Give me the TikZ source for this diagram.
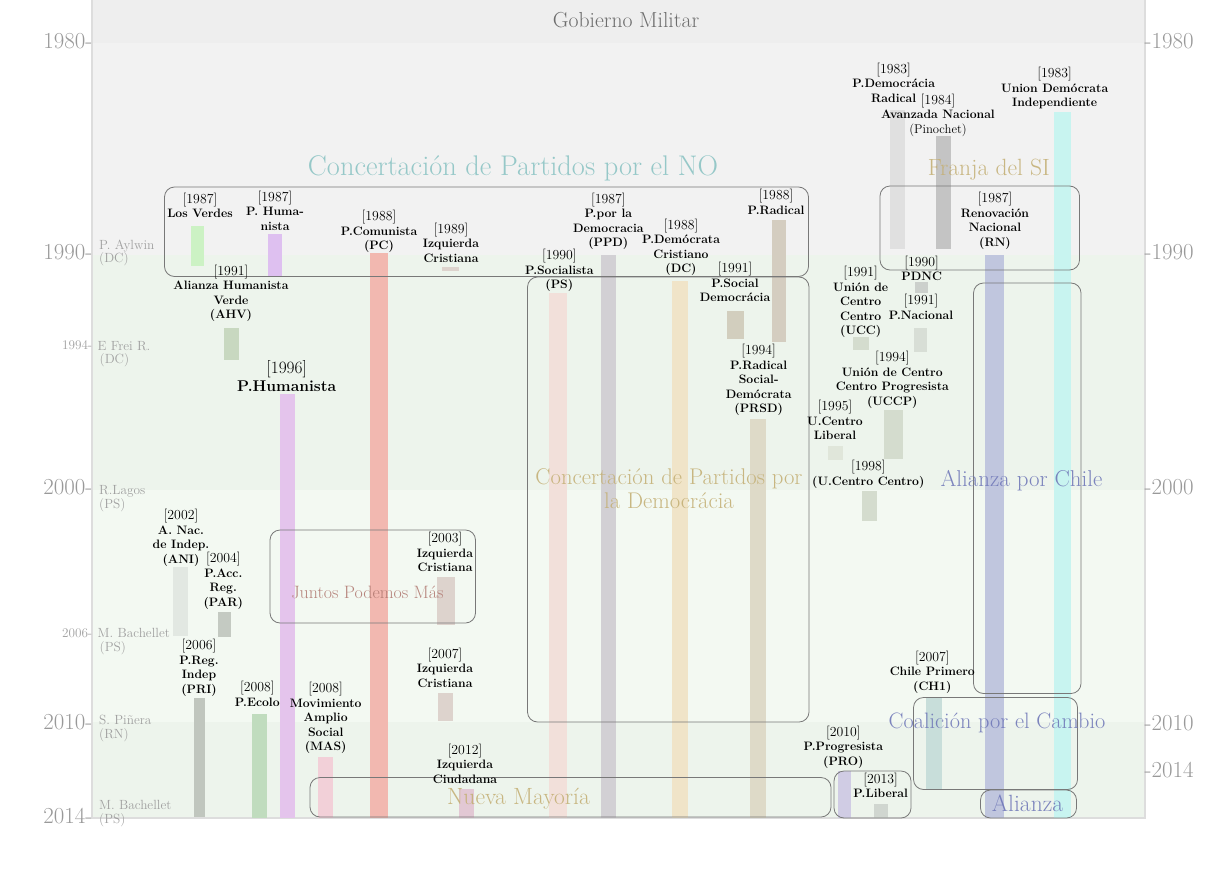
\documentclass[tikz,border=0pt]{standalone}
\usepackage{fontspec}
\definecolor{bgA}{RGB}{238,238,238}
\definecolor{bgB}{RGB}{242,242,242}
\definecolor{bgC}{RGB}{237,244,236}
\definecolor{bgD}{RGB}{243,249,242}
\definecolor{cFrame}{RGB}{221,221,221}
\definecolor{cAxis}{RGB}{153,153,153}
\definecolor{cPres}{RGB}{160,160,160}
\definecolor{cGob}{RGB}{96,96,96}
\definecolor{cBox}{RGB}{120,120,120}
\definecolor{tTeal}{RGB}{140,196,196}
\definecolor{tTan}{RGB}{196,176,118}
\definecolor{tRed}{RGB}{176,120,112}
\definecolor{tBlue}{RGB}{112,120,184}
\definecolor{cVerdes}{RGB}{204,242,196}
\definecolor{cHumA}{RGB}{222,192,240}
\definecolor{cHumB}{RGB}{228,196,236}
\definecolor{cPC}{RGB}{242,184,176}
\definecolor{cIC}{RGB}{221,211,205}
\definecolor{cAHV}{RGB}{200,216,192}
\definecolor{cANI}{RGB}{226,232,226}
\definecolor{cPAR}{RGB}{196,202,194}
\definecolor{cPRI}{RGB}{192,198,190}
\definecolor{cEco}{RGB}{192,220,190}
\definecolor{cMAS}{RGB}{242,208,216}
\definecolor{cICiu}{RGB}{226,200,212}
\definecolor{cPS}{RGB}{242,224,218}
\definecolor{cPPD}{RGB}{210,208,212}
\definecolor{cDC}{RGB}{240,228,200}
\definecolor{cPR}{RGB}{212,205,192}
\definecolor{cPSD}{RGB}{210,206,190}
\definecolor{cPRSD}{RGB}{222,218,200}
\definecolor{cUCC}{RGB}{212,220,206}
\definecolor{cPDNC}{RGB}{204,208,204}
\definecolor{cPN}{RGB}{216,222,214}
\definecolor{cUCL}{RGB}{224,230,218}
\definecolor{cPDR}{RGB}{224,224,224}
\definecolor{cAN}{RGB}{196,196,196}
\definecolor{cRN}{RGB}{192,198,222}
\definecolor{cUDI}{RGB}{200,244,240}
\definecolor{cCH}{RGB}{200,222,218}
\definecolor{cPRO}{RGB}{208,204,228}
\definecolor{cPL}{RGB}{208,214,208}
\newcommand\mybar[5]{\fill[#1] (#2,#3) rectangle (#4,#5);}
\newcommand\yr[1]{{\mdseries\fontsize{13.8}{14.5}\selectfont[#1]}}
\tikzset{
  lbl/.style={align=center, inner sep=0pt, anchor=north, text=black,
    font=\fontsize{12.2}{14.5}\selectfont\bfseries},
  pres/.style={align=left, inner sep=0pt, anchor=north west, text=cPres,
    font=\fontsize{13.3}{13.5}\selectfont},
  ax/.style={inner sep=0pt, text=cAxis, font=\fontsize{22.9}{23}\selectfont},
  axs/.style={inner sep=0pt, text=cPres, anchor=east, font=\fontsize{13.2}{13.5}\selectfont},
  coal/.style={draw=cBox, line width=0.8pt, rounded corners=10pt},
  ttl/.style={inner sep=0pt, anchor=base, text opacity=0.9},
  frame/.style={draw=cFrame, line width=2pt}
}
\begin{document}
\begin{tikzpicture}[x=1pt,y=-1pt]
\useasboundingbox (0,0) rectangle (1215,894);
\fill[white] (0,0) rectangle (1215,894);
% background bands
\fill[bgA] (92,0) rectangle (1145,43);
\fill[bgB] (92,43) rectangle (1145,255);
\fill[bgC] (92,255) rectangle (1145,490);
\fill[bgD] (92,490) rectangle (1145,722);
\fill[bgC] (92,722) rectangle (1145,818);
\draw[frame] (92,0) -- (92,818) -- (1145,818) -- (1145,0);
% party bars
\mybar{cVerdes}{191}{226}{204}{266}
\mybar{cHumA}{268}{234}{282}{277}
\mybar{cPC}{369.5}{253}{388}{818}
\mybar{cIC}{442}{267}{459}{271}
\mybar{cAHV}{224}{328}{239}{360}
\mybar{cHumB}{280}{394}{295}{818}
\mybar{cANI}{173}{566.5}{188}{636}
\mybar{cPAR}{218}{612}{231}{637}
\mybar{cPRI}{194}{698}{205}{817}
\mybar{cEco}{252}{714}{267}{818}
\mybar{cMAS}{318}{757}{333}{818}
\mybar{cIC}{437}{577}{455}{625}
\mybar{cIC}{438}{693}{453}{721}
\mybar{cICiu}{459}{789}{474}{818}
\mybar{cPS}{549}{293}{567}{818}
\mybar{cPPD}{601}{255}{616}{818}
\mybar{cDC}{672}{281}{688}{818}
\mybar{cPR}{772}{220}{786}{342}
\mybar{cPSD}{727}{311}{744}{339}
\mybar{cPRSD}{750}{419}{766}{818}
\mybar{cUCC}{853}{337}{869}{350}
\mybar{cPDNC}{915}{282}{928}{293}
\mybar{cPN}{914}{328}{927}{352}
\mybar{cUCC}{884}{410}{903}{459}
\mybar{cUCL}{828}{446}{843}{460}
\mybar{cUCC}{862}{491}{877}{521}
\mybar{cPDR}{890}{110}{905}{249}
\mybar{cAN}{936}{136}{951}{249}
\mybar{cRN}{985}{255}{1004}{818}
\mybar{cUDI}{1054}{112}{1071}{818}
\mybar{cCH}{926}{698}{942}{789}
\mybar{cPRO}{838}{771}{851}{818}
\mybar{cPL}{874}{804}{888}{818}
% coalition boxes
\draw[coal] (164.5,187) rectangle (808.5,276.5);
\draw[coal] (527.5,277) rectangle (809,722);
\draw[coal] (270,530) rectangle (475.5,623);
\draw[coal] (310,777.5) rectangle (831,817);
\draw[coal] (834,771) rectangle (911,818);
\draw[coal] (880,186) rectangle (1079.5,270);
\draw[coal] (973.5,283) rectangle (1081,693.5);
\draw[coal] (913.5,697.5) rectangle (1077.5,789.5);
\draw[coal] (980.5,790) rectangle (1076.5,818);
% axis labels
\node[ax,anchor=east] (l1980) at (92.5,41) {1980-};
\node[ax,anchor=east] (l1990) at (92.5,252) {1990-};
\node[ax,anchor=east] (l2000) at (92.5,487.5) {2000-};
\node[ax,anchor=east] (l2010) at (92.5,722) {2010-};
\node[ax,anchor=east] (l2014) at (92.5,816) {2014-};
\node[ax,anchor=west] (r1980) at (1144.5,41.3) {-1980};
\node[ax,anchor=west] (r1990) at (1144.5,252.3) {-1990};
\node[ax,anchor=west] (r2000) at (1144.5,487.3) {-2000};
\node[ax,anchor=west] (r2010) at (1144.5,722.7) {-2010};
\node[ax,anchor=west] (r2014) at (1144.5,770) {-2014};
\node[axs] (s1994) at (92.5,345) {1994-};
\node[axs] (s2006) at (92.5,633) {2006-};
% presidents
\node[pres] (pAylwin) at (99,239.5) {P. Aylwin\\(DC)};
\node[pres] (pFrei) at (97.5,340.8) {E Frei R.\\\hspace*{2pt}(DC)};
\node[pres] (pLagos) at (99,485.5) {R.Lagos\\(PS)};
\node[pres] (pBach) at (97.5,628.5) {M. Bachellet\\\hspace*{2pt}(PS)};
\node[pres] (pPin) at (99,715) {S. Piñera\\(RN)};
\node[pres] (pBach2) at (99,800.5) {M. Bachellet\\(PS)};
% party labels
\node[lbl] (nVerdes) at (200,192.6) {\yr{1987}\\Los Verdes};
\node[lbl] (nHum87) at (275,190.6) {\yr{1987}\\P. Huma-\\nista};
\node[lbl] (nPC) at (379,210.1) {\yr{1988}\\P.Comunista\\(PC)};
\node[lbl] (nIC89) at (451,222.6) {\yr{1989}\\Izquierda\\Cristiana};
\node[lbl] (nAHV) at (231,264.6) {\yr{1991}\\Alianza Humanista\\Verde\\(AHV)};
\node[lbl,font=\fontsize{15.6}{18}\selectfont\bfseries] (nHum96) at (286.7,360.8) {{\mdseries\fontsize{17.3}{18}\selectfont[1996]}\\P.Humanista};
\node[lbl] (nANI) at (181,509.1) {\yr{2002}\\A. Nac.\\de Indep.\\(ANI)};
\node[lbl] (nPAR) at (223.3,552.1) {\yr{2004}\\P.Acc.\\Reg.\\(PAR)};
\node[lbl] (nPRI) at (199,639.4) {\yr{2006}\\P.Reg.\\Indep\\(PRI)};
\node[lbl] (nEco) at (257.3,681.1) {\yr{2008}\\P.Ecolo};
\node[lbl] (nMAS) at (325.7,682.1) {\yr{2008}\\Movimiento\\Amplio\\Social\\(MAS)};
\node[lbl] (nIC03) at (445,532.1) {\yr{2003}\\Izquierda\\Cristiana};
\node[lbl] (nIC07) at (445,647.8) {\yr{2007}\\Izquierda\\Cristiana};
\node[lbl] (nIC12) at (465,743.6) {\yr{2012}\\Izquierda\\Ciudadana};
\node[lbl] (nPS) at (559.3,249.1) {\yr{1990}\\P.Socialista\\(PS)};
\node[lbl] (nPPD) at (608.3,192.6) {\yr{1987}\\P.por la\\Democracia\\(PPD)};
\node[lbl] (nDC) at (681,218.6) {\yr{1988}\\P.Demócrata\\Cristiano\\(DC)};
\node[lbl] (nPR) at (776,189.1) {\yr{1988}\\P.Radical};
\node[lbl] (nPSD) at (735,262.1) {\yr{1991}\\P.Social\\Democrácia};
\node[lbl] (nPRSD) at (758.7,344.4) {\yr{1994}\\P.Radical\\Social-\\Demócrata\\(PRSD)};
\node[lbl] (nUCC) at (860.7,266.1) {\yr{1991}\\Unión de\\Centro\\Centro\\(UCC)};
\node[lbl] (nPDNC) at (921.7,255.6) {\yr{1990}\\PDNC};
\node[lbl] (nPN) at (921,294.1) {\yr{1991}\\P.Nacional};
\node[lbl] (nUCCP) at (892.3,351.1) {\yr{1994}\\Unión de Centro\\Centro Progresista\\(UCCP)};
\node[lbl] (nUCL) at (835,400.1) {\yr{1995}\\U.Centro\\Liberal};
\node[lbl] (nUCC98) at (868.3,460.1) {\yr{1998}\\(U.Centro Centro)};
\node[lbl] (nPDR) at (893.7,62.6) {\yr{1983}\\P.Democrácia\\Radical};
\node[lbl] (nAN) at (938,93.6) {\yr{1984}\\Avanzada Nacional\\{\mdseries\fontsize{12.7}{14.5}\selectfont(Pinochet)}};
\node[lbl] (nUDI) at (1054.7,67.1) {\yr{1983}\\Union Demócrata\\Independiente};
\node[lbl] (nRN) at (995,192.1) {\yr{1987}\\Renovación\\Nacional\\(RN)};
\node[lbl] (nCH) at (932.3,650.6) {\yr{2007}\\Chile Primero\\(CH1)};
\node[lbl] (nPRO) at (843.3,725.6) {\yr{2010}\\P.Progresista\\(PRO)};
\node[lbl] (nPL) at (880.7,772.6) {\yr{2013}\\P.Liberal};
% titles
\node[ttl,text=cGob,font=\fontsize{21.7}{22}\selectfont] (tGob) at (626,27.5) {Gobierno Militar};
\node[ttl,text=tTeal,font=\fontsize{28.4}{28}\selectfont] (tNO) at (513,175.5) {Concertación de Partidos por el NO};
\node[ttl,text=tTan,font=\fontsize{23.5}{24}\selectfont] (tFranja) at (988.8,175) {Franja del SI};
\node[ttl,anchor=north,align=center,text=tTan,font=\fontsize{22.7}{24}\selectfont] (tConc) at (669,468) {Concertación de Partidos por\\la Democrácia};
\node[ttl,text=tRed,font=\fontsize{17.9}{18}\selectfont] (tJuntos) at (367.4,598) {Juntos Podemos Más};
\node[ttl,text=tTan,font=\fontsize{23.5}{24}\selectfont] (tNM) at (518.5,804) {Nueva Mayoría};
\node[ttl,text=tBlue,font=\fontsize{22.9}{23}\selectfont] (tAPC) at (1021.5,486.5) {Alianza por Chile};
\node[ttl,text=tBlue,font=\fontsize{22.3}{23}\selectfont] (tCoal) at (997,728.5) {Coalición por el Cambio};
\node[ttl,text=tBlue,font=\fontsize{23.5}{24}\selectfont] (tAli) at (1027.5,811) {Alianza};
\end{tikzpicture}
\end{document}
